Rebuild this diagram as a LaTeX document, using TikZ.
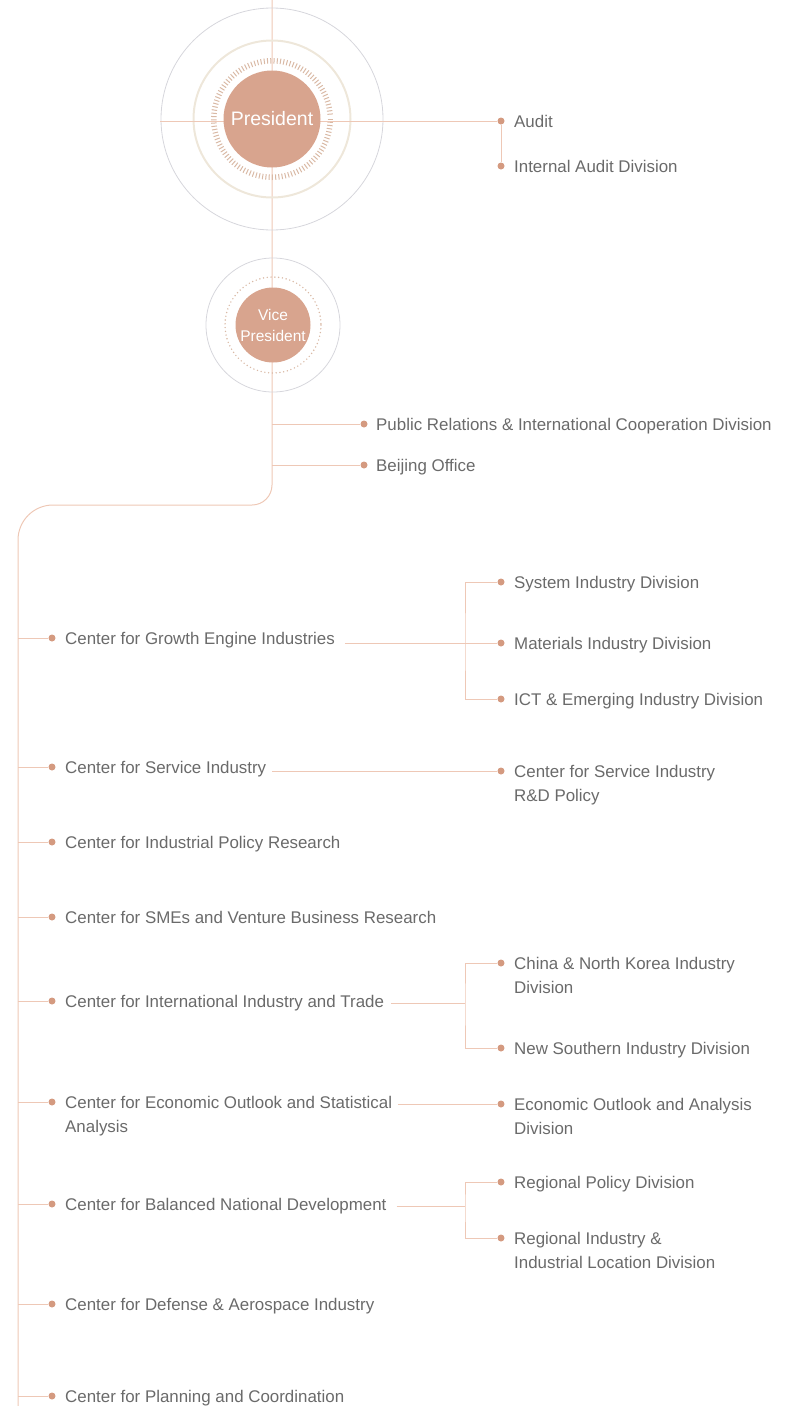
\documentclass[tikz,border=0pt]{standalone}
\usepackage{fontspec}
\setmainfont{Liberation Sans}
\definecolor{lineC}{HTML}{EEC8B6}
\definecolor{dotC}{HTML}{D49A80}
\definecolor{fillC}{HTML}{D8A48E}
\definecolor{txtC}{HTML}{6A6A6A}
\definecolor{grayC}{HTML}{D6D6DC}
\definecolor{beigeC}{HTML}{EEE7DA}
\definecolor{tickC}{HTML}{D9B9A5}
\begin{document}
\begin{tikzpicture}[x=1pt,y=-1pt,
  line/.style={draw=lineC, line width=1pt},
  dotn/.style={circle, fill=dotC, inner sep=0pt, minimum size=7pt},
  lbl/.style={anchor=north west, inner sep=0pt, text=txtC, font=\fontsize{16.9}{24}\selectfont, align=left},
  bigc/.style={circle, fill=fillC, text=white, inner sep=0pt, align=center},
]
\useasboundingbox (0,0) rectangle (789,1406);
\coordinate (spineTop) at (272,0);
\coordinate (spine) at (18,0);
% main spine
\draw[line] (spineTop) -- (272,485) arc[start angle=0,end angle=90,radius=20] -- (53,505) arc[start angle=-90,end angle=-180,radius=35] -- (18,1406);

% President rings
\coordinate (pc) at (272,119);
\draw[draw=grayC, line width=0.8pt] (pc) circle (111);
\draw[draw=beigeC, line width=2pt] (pc) circle (78.5);
\foreach \a in {0,3.2,...,356.9} \draw[draw=tickC, line width=1pt] (pc) ++(\a:55.5) -- ++(\a:5.5);
\node[dotn] (dAudit) at (501,121) {};
\node[dotn] (dIAD) at (501,166) {};
\coordinate (presL) at (160,121);
\draw[line] (presL) -- (dAudit.west);
\draw[line] (dAudit.south) -- (dIAD.north);
\node[bigc, minimum size=97pt, font=\fontsize{19.5}{22}\selectfont] (pres) at (pc) {President};
\node[lbl] (tAudit) at (514,115.5) {Audit};
\node[lbl] (tIAD) at (514,160.5) {Internal Audit Division};

% Vice President
\coordinate (vc) at (273,325);
\draw[draw=grayC, line width=0.8pt] (vc) circle (67);
\draw[draw=tickC, line width=1.6pt, dash pattern=on 0pt off 3.8pt, line cap=round] (vc) circle (48);
\node[bigc, minimum size=75pt, font=\fontsize{15.5}{21}\selectfont] (vp) at (vc) {Vice\\President};

% PR and Beijing
\node[dotn] (dPR) at (364,424) {};
\node[dotn] (dBJ) at (364,465) {};
\draw[line] (dPR.west -| spineTop) -- (dPR.west);
\draw[line] (dBJ.west -| spineTop) -- (dBJ.west);
\node[lbl] (tPR) at (376,418.5) {Public Relations \& International Cooperation Division};
\node[lbl] (tBJ) at (376,459.5) {Beijing Office};

% Centers
\foreach \n/\y/\t in {
  Growth/638/{Center for Growth Engine Industries},
  Service/767/{Center for Service Industry},
  Policy/842/{Center for Industrial Policy Research},
  SME/917/{Center for SMEs and Venture Business Research},
  Intl/1001/{Center for International Industry and Trade},
  Econ/1102/{Center for Economic Outlook and Statistical\\Analysis},
  Bal/1204/{Center for Balanced National Development},
  Def/1304/{Center for Defense \& Aerospace Industry},
  Plan/1396/{Center for Planning and Coordination}}{
  \node[dotn] (d\n) at (52,\y) {};
  \draw[line] (d\n.west -| spine) -- (d\n.west);
  \node[lbl] (t\n) at (65,\y-5.5) {\t};
}

% Right-side divisions
\foreach \n/\y/\t in {
  Sys/582/{System Industry Division},
  Mat/643/{Materials Industry Division},
  ICT/699/{ICT \& Emerging Industry Division},
  SRD/771/{Center for Service Industry\\R\&D Policy},
  China/963/{China \& North Korea Industry\\Division},
  NS/1048/{New Southern Industry Division},
  EOA/1104/{Economic Outlook and Analysis\\Division},
  RP/1182/{Regional Policy Division},
  RI/1238/{Regional Industry \&\\Industrial Location Division}}{
  \node[dotn] (d\n) at (501,\y) {};
  \node[lbl] (t\n) at (514,\y-5.5) {\t};
}

% Growth branch
\coordinate (bG) at (465,643);
\draw[line] ([xshift=10pt]tGrowth.east |- dMat) -- (dMat.west);
\draw[line] (dSys.west) -| (bG) |- (dICT.west);
% Service branch
\draw[line] ([xshift=6pt]tService.east |- dSRD) -- (dSRD.west);
% International branch
\coordinate (bI) at (465,1003);
\draw[line] ([xshift=7pt]tIntl.east |- bI) -- (bI);
\draw[line] (dChina.west) -| (bI) |- (dNS.west);
% Economic branch
\draw[line] ([xshift=6pt]tEcon.north east |- dEOA) -- (dEOA.west);
% Balanced branch
\coordinate (bB) at (465,1206);
\draw[line] ([xshift=10pt]tBal.east |- bB) -- (bB);
\draw[line] (dRP.west) -| (bB) |- (dRI.west);
\end{tikzpicture}
\end{document}
